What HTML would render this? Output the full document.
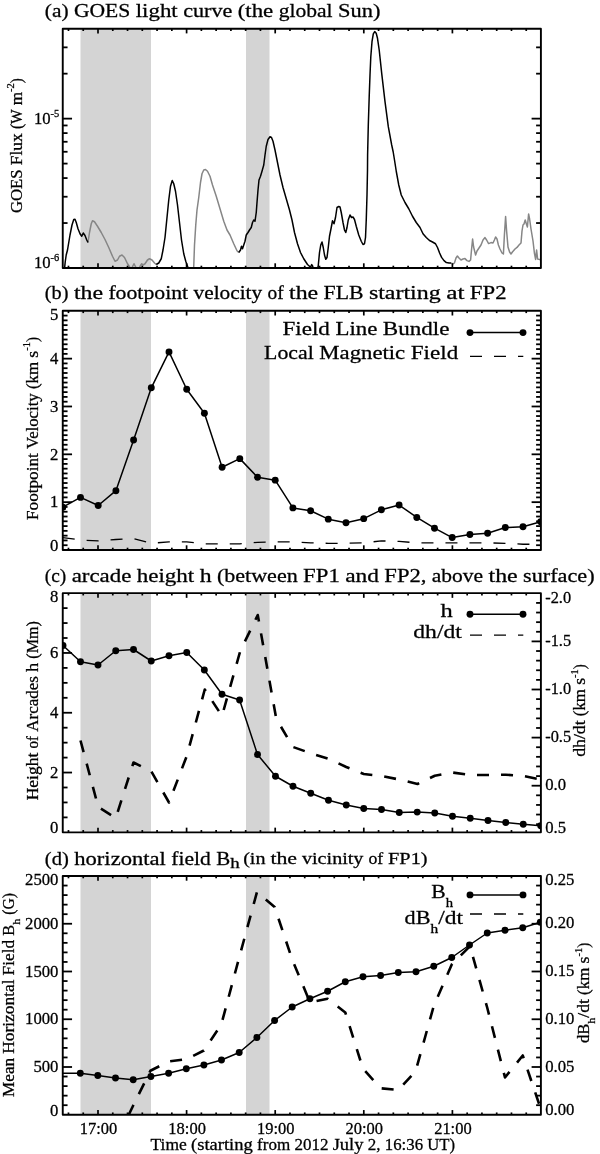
<!DOCTYPE html>
<html lang="en"><head><meta charset="utf-8"><title>Figure</title>
<style>html,body{margin:0;padding:0;background:#fff}svg{display:block}</style></head>
<body>
<svg width="600" height="1154" viewBox="0 0 600 1154" font-family='"Liberation Serif", serif' fill="#000">
<style>text{stroke:#000;stroke-width:0.27px}</style>
<rect width="600" height="1154" fill="#fff"/>
<rect x="80.5" y="28.7" width="70.5" height="239.3" fill="#d4d4d4"/>
<rect x="246" y="28.7" width="23.5" height="239.3" fill="#d4d4d4"/>
<text transform="translate(44.8,17)"><tspan x="0" y="0" font-size="19.2" textLength="23.71" lengthAdjust="spacingAndGlyphs">(a)</tspan> <tspan x="29.1" y="0" font-size="19.2" textLength="56.42" lengthAdjust="spacingAndGlyphs">GOES</tspan> <tspan x="90.91" y="0" font-size="19.2" textLength="42.04" lengthAdjust="spacingAndGlyphs">light</tspan> <tspan x="138.34" y="0" font-size="19.2" textLength="49.2" lengthAdjust="spacingAndGlyphs">curve</tspan> <tspan x="192.93" y="0" font-size="19.2" textLength="35.56" lengthAdjust="spacingAndGlyphs">(the</tspan> <tspan x="233.89" y="0" font-size="19.2" textLength="53.91" lengthAdjust="spacingAndGlyphs">global</tspan> <tspan x="293.19" y="0" font-size="19.2" textLength="42.39" lengthAdjust="spacingAndGlyphs">Sun)</tspan></text>
<clipPath id="ca"><rect x="62.75" y="28.7" width="478.15" height="239.3"/></clipPath>
<g clip-path="url(#ca)">
<path d="M88,242.5 L89.5,232.5 L91.25,223.75 L92.5,220.75 L94.5,221.75 L97.5,226.25 L101.25,232.5 L105,239.5 L108.75,247.5 L112.5,256.25 L115,261.25 L117.5,260 L119.5,256.25 L122,255 L124.5,257.5 L127.5,263.75 L129.25,266.25 L130.5,268.5 L131.8,268.5 L132.8,266 L134,263.75 L135.3,266.25 L136.5,268.5 L139,268.5 L140.2,266 L141.75,263.75 L143,265 L145,263.75 L147.5,260 L149.5,258.75 L152,260 L154.5,263 L156.25,264.5" fill="none" stroke="#868686" stroke-width="1.5" stroke-linejoin="round" />
<path d="M193.5,269 L193.75,266.25 L194.5,245 L195.75,225 L197,210 L198.75,197.5 L200.5,182.5 L202,173.75 L203.75,170 L205.5,169.5 L207.5,171.25 L210,176.25 L212.5,185 L216.25,196.25 L220,208.75 L223.75,221.25 L227,230 L230,235 L233.75,243.75 L237,250.75 L238.75,252.5" fill="none" stroke="#868686" stroke-width="1.5" stroke-linejoin="round" />
<path d="M451,263 L453,264 L454.4,263 L456,258 L457.4,256 L459,258 L461,260 L463,259 L465,258.6 L467,260.6 L469,261.4 L470.6,260 L471.6,249 L472.6,239 L473.6,247 L475.6,255 L477,251 L479,248 L481,245 L483,240 L485,237.6 L486.6,240 L488.6,243.6 L491,242.6 L493,243 L494.4,240 L495.6,237 L497,239 L498.4,245 L500,249 L502,253 L503.4,254 L504.4,235 L505.6,216.6 L506.6,231 L508,247 L509.6,252 L511,254 L512.4,252 L515,249 L517,247.4 L519,245 L521,243 L522,231 L523,225 L524,224 L525.2,220 L526.4,224 L527.4,227 L528.6,214 L529.6,219 L531,229 L533,241 L534.4,253 L535.6,259.4 L536.6,250 L537.6,259 L539,259.4 L540.7,259.4" fill="none" stroke="#868686" stroke-width="1.5" stroke-linejoin="round" />
<path d="M64.6,268 L65.2,262 L66.2,255 L67.5,250 L70,235 L72,225 L73.75,219.5 L75,219.25 L76.25,222.5 L78,228.75 L80,233.75 L81.75,236.25 L83.25,233 L85,235.5 L86.75,240 L88,242.5" fill="none" stroke="#000" stroke-width="1.5" stroke-linejoin="round" />
<path d="M156.25,264.5 L158.75,263 L161.25,258.75 L163,250 L165,237.5 L167,217.5 L168.75,200 L170.5,186.25 L172.25,180.5 L173.75,183.75 L175.5,191.25 L177.5,205 L179.5,222.5 L181.5,240 L183.75,253.75 L185.75,261.25 L187.5,266.25 L188.5,269" fill="none" stroke="#000" stroke-width="1.5" stroke-linejoin="round" />
<path d="M238.75,252.5 L240.5,250 L241.5,246.25 L242.5,248.75 L243.75,245 L245,241.25 L246.25,235 L248,232.5 L249.5,230 L251.25,227.5 L252.5,222.5 L253.75,220 L255,221.25 L256.25,212.5 L257,202.5 L258,190 L259,180 L260.5,176.25 L262,171.25 L263.75,165 L265,155 L266.25,146.25 L268,139.5 L270,136.75 L271.5,137.5 L273,141.25 L275,150 L277.5,162.5 L280,175 L283,187.5 L286.25,198.75 L289.5,210 L292,220 L294.5,232.5 L297.5,243.75 L300.5,252.5 L303.75,258.75 L307.5,264.5 L309.5,266.25 L310.3,268.5 L311,266 L311.7,264.6 L312.6,266 L313.2,268.5" fill="none" stroke="#000" stroke-width="1.5" stroke-linejoin="round" />
<path d="M317.8,268.5 L318.2,266.25 L319.5,252.5 L320.75,245 L322,242 L323.25,247.5 L324.5,255 L325.75,259.25 L327,257.5 L328.25,247.5 L329.5,236.25 L331,228.75 L332.5,220.75 L334,223.75 L335.5,217.5 L337,207.5 L338.75,206.5 L340,207 L341.25,212.5 L343,222.5 L344.5,230 L345.75,232.5 L347,227.5 L348.25,220 L350,215 L351.5,217.5 L353,217 L354.5,219.5 L356.25,226.25 L358.75,235 L361.25,241.25 L363,244.5 L364.5,243.75 L365.5,237.5 L366.25,220 L367,195 L367.5,170 L367.6,155 L368.3,125 L369.2,96.7 L370,75 L370.8,56.7 L372,41.7 L373.3,33.8 L374.7,31.6 L376.2,33.3 L377.5,38.3 L379.2,50 L381.7,73.3 L385,101.7 L388.3,126.7 L391.7,145 L393.2,152 L394.5,160 L396.25,171.25 L398.75,185 L401.25,195 L405,202.5 L408.75,208.75 L412.5,216.25 L416.25,222.5 L420,227.5 L423,233.75 L426.25,237.5 L429.5,240.5 L432.5,242 L435.5,243.75 L437.5,247.5 L439.6,253 L441.6,257.4 L444,260.6 L446.4,262.6 L449,263 L451,263" fill="none" stroke="#000" stroke-width="1.5" stroke-linejoin="round" />
</g>
<rect x="62.75" y="28.7" width="478.15" height="239.3" fill="none" stroke="#000" stroke-width="1.9" stroke-linejoin="round"/>
<line x1="68.47" y1="28.7" x2="68.47" y2="31" stroke="#000" stroke-width="1.7" />
<line x1="68.47" y1="268" x2="68.47" y2="265.7" stroke="#000" stroke-width="1.7" />
<line x1="83.23" y1="28.7" x2="83.23" y2="31" stroke="#000" stroke-width="1.7" />
<line x1="83.23" y1="268" x2="83.23" y2="265.7" stroke="#000" stroke-width="1.7" />
<line x1="98" y1="28.7" x2="98" y2="33.4" stroke="#000" stroke-width="1.7" />
<line x1="98" y1="268" x2="98" y2="263.3" stroke="#000" stroke-width="1.7" />
<line x1="112.77" y1="28.7" x2="112.77" y2="31" stroke="#000" stroke-width="1.7" />
<line x1="112.77" y1="268" x2="112.77" y2="265.7" stroke="#000" stroke-width="1.7" />
<line x1="127.53" y1="28.7" x2="127.53" y2="31" stroke="#000" stroke-width="1.7" />
<line x1="127.53" y1="268" x2="127.53" y2="265.7" stroke="#000" stroke-width="1.7" />
<line x1="142.3" y1="28.7" x2="142.3" y2="31" stroke="#000" stroke-width="1.7" />
<line x1="142.3" y1="268" x2="142.3" y2="265.7" stroke="#000" stroke-width="1.7" />
<line x1="157.07" y1="28.7" x2="157.07" y2="31" stroke="#000" stroke-width="1.7" />
<line x1="157.07" y1="268" x2="157.07" y2="265.7" stroke="#000" stroke-width="1.7" />
<line x1="171.83" y1="28.7" x2="171.83" y2="31" stroke="#000" stroke-width="1.7" />
<line x1="171.83" y1="268" x2="171.83" y2="265.7" stroke="#000" stroke-width="1.7" />
<line x1="186.6" y1="28.7" x2="186.6" y2="33.4" stroke="#000" stroke-width="1.7" />
<line x1="186.6" y1="268" x2="186.6" y2="263.3" stroke="#000" stroke-width="1.7" />
<line x1="201.37" y1="28.7" x2="201.37" y2="31" stroke="#000" stroke-width="1.7" />
<line x1="201.37" y1="268" x2="201.37" y2="265.7" stroke="#000" stroke-width="1.7" />
<line x1="216.13" y1="28.7" x2="216.13" y2="31" stroke="#000" stroke-width="1.7" />
<line x1="216.13" y1="268" x2="216.13" y2="265.7" stroke="#000" stroke-width="1.7" />
<line x1="230.9" y1="28.7" x2="230.9" y2="31" stroke="#000" stroke-width="1.7" />
<line x1="230.9" y1="268" x2="230.9" y2="265.7" stroke="#000" stroke-width="1.7" />
<line x1="245.67" y1="28.7" x2="245.67" y2="31" stroke="#000" stroke-width="1.7" />
<line x1="245.67" y1="268" x2="245.67" y2="265.7" stroke="#000" stroke-width="1.7" />
<line x1="260.43" y1="28.7" x2="260.43" y2="31" stroke="#000" stroke-width="1.7" />
<line x1="260.43" y1="268" x2="260.43" y2="265.7" stroke="#000" stroke-width="1.7" />
<line x1="275.2" y1="28.7" x2="275.2" y2="33.4" stroke="#000" stroke-width="1.7" />
<line x1="275.2" y1="268" x2="275.2" y2="263.3" stroke="#000" stroke-width="1.7" />
<line x1="289.97" y1="28.7" x2="289.97" y2="31" stroke="#000" stroke-width="1.7" />
<line x1="289.97" y1="268" x2="289.97" y2="265.7" stroke="#000" stroke-width="1.7" />
<line x1="304.73" y1="28.7" x2="304.73" y2="31" stroke="#000" stroke-width="1.7" />
<line x1="304.73" y1="268" x2="304.73" y2="265.7" stroke="#000" stroke-width="1.7" />
<line x1="319.5" y1="28.7" x2="319.5" y2="31" stroke="#000" stroke-width="1.7" />
<line x1="319.5" y1="268" x2="319.5" y2="265.7" stroke="#000" stroke-width="1.7" />
<line x1="334.27" y1="28.7" x2="334.27" y2="31" stroke="#000" stroke-width="1.7" />
<line x1="334.27" y1="268" x2="334.27" y2="265.7" stroke="#000" stroke-width="1.7" />
<line x1="349.03" y1="28.7" x2="349.03" y2="31" stroke="#000" stroke-width="1.7" />
<line x1="349.03" y1="268" x2="349.03" y2="265.7" stroke="#000" stroke-width="1.7" />
<line x1="363.8" y1="28.7" x2="363.8" y2="33.4" stroke="#000" stroke-width="1.7" />
<line x1="363.8" y1="268" x2="363.8" y2="263.3" stroke="#000" stroke-width="1.7" />
<line x1="378.57" y1="28.7" x2="378.57" y2="31" stroke="#000" stroke-width="1.7" />
<line x1="378.57" y1="268" x2="378.57" y2="265.7" stroke="#000" stroke-width="1.7" />
<line x1="393.33" y1="28.7" x2="393.33" y2="31" stroke="#000" stroke-width="1.7" />
<line x1="393.33" y1="268" x2="393.33" y2="265.7" stroke="#000" stroke-width="1.7" />
<line x1="408.1" y1="28.7" x2="408.1" y2="31" stroke="#000" stroke-width="1.7" />
<line x1="408.1" y1="268" x2="408.1" y2="265.7" stroke="#000" stroke-width="1.7" />
<line x1="422.87" y1="28.7" x2="422.87" y2="31" stroke="#000" stroke-width="1.7" />
<line x1="422.87" y1="268" x2="422.87" y2="265.7" stroke="#000" stroke-width="1.7" />
<line x1="437.63" y1="28.7" x2="437.63" y2="31" stroke="#000" stroke-width="1.7" />
<line x1="437.63" y1="268" x2="437.63" y2="265.7" stroke="#000" stroke-width="1.7" />
<line x1="452.4" y1="28.7" x2="452.4" y2="33.4" stroke="#000" stroke-width="1.7" />
<line x1="452.4" y1="268" x2="452.4" y2="263.3" stroke="#000" stroke-width="1.7" />
<line x1="467.17" y1="28.7" x2="467.17" y2="31" stroke="#000" stroke-width="1.7" />
<line x1="467.17" y1="268" x2="467.17" y2="265.7" stroke="#000" stroke-width="1.7" />
<line x1="481.93" y1="28.7" x2="481.93" y2="31" stroke="#000" stroke-width="1.7" />
<line x1="481.93" y1="268" x2="481.93" y2="265.7" stroke="#000" stroke-width="1.7" />
<line x1="496.7" y1="28.7" x2="496.7" y2="31" stroke="#000" stroke-width="1.7" />
<line x1="496.7" y1="268" x2="496.7" y2="265.7" stroke="#000" stroke-width="1.7" />
<line x1="511.47" y1="28.7" x2="511.47" y2="31" stroke="#000" stroke-width="1.7" />
<line x1="511.47" y1="268" x2="511.47" y2="265.7" stroke="#000" stroke-width="1.7" />
<line x1="526.23" y1="28.7" x2="526.23" y2="31" stroke="#000" stroke-width="1.7" />
<line x1="526.23" y1="268" x2="526.23" y2="265.7" stroke="#000" stroke-width="1.7" />
<line x1="62.75" y1="223.04" x2="67.55" y2="223.04" stroke="#000" stroke-width="1.8" />
<line x1="62.75" y1="196.73" x2="67.55" y2="196.73" stroke="#000" stroke-width="1.8" />
<line x1="62.75" y1="178.07" x2="67.55" y2="178.07" stroke="#000" stroke-width="1.8" />
<line x1="62.75" y1="163.59" x2="67.55" y2="163.59" stroke="#000" stroke-width="1.8" />
<line x1="62.75" y1="151.77" x2="67.55" y2="151.77" stroke="#000" stroke-width="1.8" />
<line x1="62.75" y1="141.77" x2="67.55" y2="141.77" stroke="#000" stroke-width="1.8" />
<line x1="62.75" y1="133.11" x2="67.55" y2="133.11" stroke="#000" stroke-width="1.8" />
<line x1="62.75" y1="125.46" x2="67.55" y2="125.46" stroke="#000" stroke-width="1.8" />
<line x1="62.75" y1="118.63" x2="72.05" y2="118.63" stroke="#000" stroke-width="1.8" />
<line x1="62.75" y1="73.66" x2="67.55" y2="73.66" stroke="#000" stroke-width="1.8" />
<line x1="62.75" y1="47.36" x2="67.55" y2="47.36" stroke="#000" stroke-width="1.8" />
<line x1="540.9" y1="223.04" x2="536.1" y2="223.04" stroke="#000" stroke-width="1.8" />
<line x1="540.9" y1="196.73" x2="536.1" y2="196.73" stroke="#000" stroke-width="1.8" />
<line x1="540.9" y1="178.07" x2="536.1" y2="178.07" stroke="#000" stroke-width="1.8" />
<line x1="540.9" y1="163.59" x2="536.1" y2="163.59" stroke="#000" stroke-width="1.8" />
<line x1="540.9" y1="151.77" x2="536.1" y2="151.77" stroke="#000" stroke-width="1.8" />
<line x1="540.9" y1="141.77" x2="536.1" y2="141.77" stroke="#000" stroke-width="1.8" />
<line x1="540.9" y1="133.11" x2="536.1" y2="133.11" stroke="#000" stroke-width="1.8" />
<line x1="540.9" y1="125.46" x2="536.1" y2="125.46" stroke="#000" stroke-width="1.8" />
<line x1="540.9" y1="118.63" x2="531.6" y2="118.63" stroke="#000" stroke-width="1.8" />
<line x1="540.9" y1="73.66" x2="536.1" y2="73.66" stroke="#000" stroke-width="1.8" />
<line x1="540.9" y1="47.36" x2="536.1" y2="47.36" stroke="#000" stroke-width="1.8" />
<text transform="translate(59.3,123.93)"><tspan x="-25.39" y="0" font-size="16.4" textLength="16.68" lengthAdjust="spacingAndGlyphs">10</tspan><tspan x="-8.71" y="-6.8" font-size="10.5" textLength="8.71" lengthAdjust="spacingAndGlyphs">-5</tspan></text>
<text transform="translate(59.3,267.6)"><tspan x="-25.39" y="0" font-size="16.4" textLength="16.68" lengthAdjust="spacingAndGlyphs">10</tspan><tspan x="-8.71" y="-6.8" font-size="10.5" textLength="8.71" lengthAdjust="spacingAndGlyphs">-6</tspan></text>
<text transform="translate(21.6,145.6) rotate(-90)"><tspan x="-67.42" y="0" font-size="15.8" textLength="43.62" lengthAdjust="spacingAndGlyphs">GOES</tspan> <tspan x="-19.63" y="0" font-size="15.8" textLength="31.95" lengthAdjust="spacingAndGlyphs">Flux</tspan> <tspan x="16.49" y="0" font-size="15.8" textLength="19.71" lengthAdjust="spacingAndGlyphs">(W</tspan> <tspan x="40.37" y="0" font-size="15.8" textLength="13.34" lengthAdjust="spacingAndGlyphs">m</tspan><tspan x="53.71" y="-7.5" font-size="10.5" textLength="8.71" lengthAdjust="spacingAndGlyphs">-2</tspan><tspan x="62.42" y="0" font-size="15.8" textLength="5" lengthAdjust="spacingAndGlyphs">)</tspan></text>
<rect x="80.5" y="310.8" width="70.5" height="239.2" fill="#d4d4d4"/>
<rect x="246" y="310.8" width="23.5" height="239.2" fill="#d4d4d4"/>
<text transform="translate(44.8,299.3)"><tspan x="0" y="0" font-size="19.2" textLength="23.71" lengthAdjust="spacingAndGlyphs">(b)</tspan> <tspan x="29.1" y="0" font-size="19.2" textLength="29.1" lengthAdjust="spacingAndGlyphs">the</tspan> <tspan x="63.59" y="0" font-size="19.2" textLength="79.75" lengthAdjust="spacingAndGlyphs">footpoint</tspan> <tspan x="148.74" y="0" font-size="19.2" textLength="68.62" lengthAdjust="spacingAndGlyphs">velocity</tspan> <tspan x="222.75" y="0" font-size="19.2" textLength="16.16" lengthAdjust="spacingAndGlyphs">of</tspan> <tspan x="244.3" y="0" font-size="19.2" textLength="29.1" lengthAdjust="spacingAndGlyphs">the</tspan> <tspan x="278.8" y="0" font-size="19.2" textLength="39.89" lengthAdjust="spacingAndGlyphs">FLB</tspan> <tspan x="324.08" y="0" font-size="19.2" textLength="71.86" lengthAdjust="spacingAndGlyphs">starting</tspan> <tspan x="401.33" y="0" font-size="19.2" textLength="18.33" lengthAdjust="spacingAndGlyphs">at</tspan> <tspan x="425.05" y="0" font-size="19.2" textLength="36.67" lengthAdjust="spacingAndGlyphs">FP2</tspan></text>
<clipPath id="cb"><rect x="62.75" y="310.8" width="478.15" height="239.2"/></clipPath>
<g clip-path="url(#cb)">
<path d="M62.8,537.56 L80.5,539.95 L98.2,540.91 L115.9,539.48 L133.6,538.52 L151.3,543.3 L169,541.87 L186.7,541.87 L204.4,543.78 L222.1,543.78 L239.8,543.78 L257.5,542.35 L275.2,541.87 L292.9,541.87 L310.6,542.82 L328.3,543.3 L346,543.3 L363.7,542.82 L381.4,540.91 L399.1,541.39 L416.8,542.82 L434.5,542.82 L452.2,542.82 L469.9,542.82 L487.6,542.82 L505.3,543.3 L523,544.26 L540.7,544.26" fill="none" stroke="#000" stroke-width="1.3" stroke-linejoin="round" stroke-dasharray="12 12" />
<path d="M62.8,507.18 L80.5,497.38 L98.2,505.51 L115.9,490.68 L133.6,439.97 L151.3,387.82 L169,351.94 L186.7,389.26 L204.4,413.18 L222.1,467.24 L239.8,458.63 L257.5,477.28 L275.2,480.15 L292.9,507.9 L310.6,510.77 L328.3,519.14 L346,522.73 L363.7,518.66 L381.4,509.81 L399.1,505.03 L416.8,517.47 L434.5,528.18 L452.2,537.56 L469.9,534.45 L487.6,533.26 L505.3,527.52 L523,526.8 L540.7,521.77" fill="none" stroke="#000" stroke-width="1.5" stroke-linejoin="round" />
<circle cx="62.8" cy="507.18" r="3.45"/>
<circle cx="80.5" cy="497.38" r="3.45"/>
<circle cx="98.2" cy="505.51" r="3.45"/>
<circle cx="115.9" cy="490.68" r="3.45"/>
<circle cx="133.6" cy="439.97" r="3.45"/>
<circle cx="151.3" cy="387.82" r="3.45"/>
<circle cx="169" cy="351.94" r="3.45"/>
<circle cx="186.7" cy="389.26" r="3.45"/>
<circle cx="204.4" cy="413.18" r="3.45"/>
<circle cx="222.1" cy="467.24" r="3.45"/>
<circle cx="239.8" cy="458.63" r="3.45"/>
<circle cx="257.5" cy="477.28" r="3.45"/>
<circle cx="275.2" cy="480.15" r="3.45"/>
<circle cx="292.9" cy="507.9" r="3.45"/>
<circle cx="310.6" cy="510.77" r="3.45"/>
<circle cx="328.3" cy="519.14" r="3.45"/>
<circle cx="346" cy="522.73" r="3.45"/>
<circle cx="363.7" cy="518.66" r="3.45"/>
<circle cx="381.4" cy="509.81" r="3.45"/>
<circle cx="399.1" cy="505.03" r="3.45"/>
<circle cx="416.8" cy="517.47" r="3.45"/>
<circle cx="434.5" cy="528.18" r="3.45"/>
<circle cx="452.2" cy="537.56" r="3.45"/>
<circle cx="469.9" cy="534.45" r="3.45"/>
<circle cx="487.6" cy="533.26" r="3.45"/>
<circle cx="505.3" cy="527.52" r="3.45"/>
<circle cx="523" cy="526.8" r="3.45"/>
<circle cx="540.7" cy="521.77" r="3.45"/>
</g>
<rect x="62.75" y="310.8" width="478.15" height="239.2" fill="none" stroke="#000" stroke-width="1.9" stroke-linejoin="round"/>
<line x1="68.47" y1="310.8" x2="68.47" y2="313.1" stroke="#000" stroke-width="1.7" />
<line x1="68.47" y1="550" x2="68.47" y2="547.7" stroke="#000" stroke-width="1.7" />
<line x1="83.23" y1="310.8" x2="83.23" y2="313.1" stroke="#000" stroke-width="1.7" />
<line x1="83.23" y1="550" x2="83.23" y2="547.7" stroke="#000" stroke-width="1.7" />
<line x1="98" y1="310.8" x2="98" y2="315.5" stroke="#000" stroke-width="1.7" />
<line x1="98" y1="550" x2="98" y2="545.3" stroke="#000" stroke-width="1.7" />
<line x1="112.77" y1="310.8" x2="112.77" y2="313.1" stroke="#000" stroke-width="1.7" />
<line x1="112.77" y1="550" x2="112.77" y2="547.7" stroke="#000" stroke-width="1.7" />
<line x1="127.53" y1="310.8" x2="127.53" y2="313.1" stroke="#000" stroke-width="1.7" />
<line x1="127.53" y1="550" x2="127.53" y2="547.7" stroke="#000" stroke-width="1.7" />
<line x1="142.3" y1="310.8" x2="142.3" y2="313.1" stroke="#000" stroke-width="1.7" />
<line x1="142.3" y1="550" x2="142.3" y2="547.7" stroke="#000" stroke-width="1.7" />
<line x1="157.07" y1="310.8" x2="157.07" y2="313.1" stroke="#000" stroke-width="1.7" />
<line x1="157.07" y1="550" x2="157.07" y2="547.7" stroke="#000" stroke-width="1.7" />
<line x1="171.83" y1="310.8" x2="171.83" y2="313.1" stroke="#000" stroke-width="1.7" />
<line x1="171.83" y1="550" x2="171.83" y2="547.7" stroke="#000" stroke-width="1.7" />
<line x1="186.6" y1="310.8" x2="186.6" y2="315.5" stroke="#000" stroke-width="1.7" />
<line x1="186.6" y1="550" x2="186.6" y2="545.3" stroke="#000" stroke-width="1.7" />
<line x1="201.37" y1="310.8" x2="201.37" y2="313.1" stroke="#000" stroke-width="1.7" />
<line x1="201.37" y1="550" x2="201.37" y2="547.7" stroke="#000" stroke-width="1.7" />
<line x1="216.13" y1="310.8" x2="216.13" y2="313.1" stroke="#000" stroke-width="1.7" />
<line x1="216.13" y1="550" x2="216.13" y2="547.7" stroke="#000" stroke-width="1.7" />
<line x1="230.9" y1="310.8" x2="230.9" y2="313.1" stroke="#000" stroke-width="1.7" />
<line x1="230.9" y1="550" x2="230.9" y2="547.7" stroke="#000" stroke-width="1.7" />
<line x1="245.67" y1="310.8" x2="245.67" y2="313.1" stroke="#000" stroke-width="1.7" />
<line x1="245.67" y1="550" x2="245.67" y2="547.7" stroke="#000" stroke-width="1.7" />
<line x1="260.43" y1="310.8" x2="260.43" y2="313.1" stroke="#000" stroke-width="1.7" />
<line x1="260.43" y1="550" x2="260.43" y2="547.7" stroke="#000" stroke-width="1.7" />
<line x1="275.2" y1="310.8" x2="275.2" y2="315.5" stroke="#000" stroke-width="1.7" />
<line x1="275.2" y1="550" x2="275.2" y2="545.3" stroke="#000" stroke-width="1.7" />
<line x1="289.97" y1="310.8" x2="289.97" y2="313.1" stroke="#000" stroke-width="1.7" />
<line x1="289.97" y1="550" x2="289.97" y2="547.7" stroke="#000" stroke-width="1.7" />
<line x1="304.73" y1="310.8" x2="304.73" y2="313.1" stroke="#000" stroke-width="1.7" />
<line x1="304.73" y1="550" x2="304.73" y2="547.7" stroke="#000" stroke-width="1.7" />
<line x1="319.5" y1="310.8" x2="319.5" y2="313.1" stroke="#000" stroke-width="1.7" />
<line x1="319.5" y1="550" x2="319.5" y2="547.7" stroke="#000" stroke-width="1.7" />
<line x1="334.27" y1="310.8" x2="334.27" y2="313.1" stroke="#000" stroke-width="1.7" />
<line x1="334.27" y1="550" x2="334.27" y2="547.7" stroke="#000" stroke-width="1.7" />
<line x1="349.03" y1="310.8" x2="349.03" y2="313.1" stroke="#000" stroke-width="1.7" />
<line x1="349.03" y1="550" x2="349.03" y2="547.7" stroke="#000" stroke-width="1.7" />
<line x1="363.8" y1="310.8" x2="363.8" y2="315.5" stroke="#000" stroke-width="1.7" />
<line x1="363.8" y1="550" x2="363.8" y2="545.3" stroke="#000" stroke-width="1.7" />
<line x1="378.57" y1="310.8" x2="378.57" y2="313.1" stroke="#000" stroke-width="1.7" />
<line x1="378.57" y1="550" x2="378.57" y2="547.7" stroke="#000" stroke-width="1.7" />
<line x1="393.33" y1="310.8" x2="393.33" y2="313.1" stroke="#000" stroke-width="1.7" />
<line x1="393.33" y1="550" x2="393.33" y2="547.7" stroke="#000" stroke-width="1.7" />
<line x1="408.1" y1="310.8" x2="408.1" y2="313.1" stroke="#000" stroke-width="1.7" />
<line x1="408.1" y1="550" x2="408.1" y2="547.7" stroke="#000" stroke-width="1.7" />
<line x1="422.87" y1="310.8" x2="422.87" y2="313.1" stroke="#000" stroke-width="1.7" />
<line x1="422.87" y1="550" x2="422.87" y2="547.7" stroke="#000" stroke-width="1.7" />
<line x1="437.63" y1="310.8" x2="437.63" y2="313.1" stroke="#000" stroke-width="1.7" />
<line x1="437.63" y1="550" x2="437.63" y2="547.7" stroke="#000" stroke-width="1.7" />
<line x1="452.4" y1="310.8" x2="452.4" y2="315.5" stroke="#000" stroke-width="1.7" />
<line x1="452.4" y1="550" x2="452.4" y2="545.3" stroke="#000" stroke-width="1.7" />
<line x1="467.17" y1="310.8" x2="467.17" y2="313.1" stroke="#000" stroke-width="1.7" />
<line x1="467.17" y1="550" x2="467.17" y2="547.7" stroke="#000" stroke-width="1.7" />
<line x1="481.93" y1="310.8" x2="481.93" y2="313.1" stroke="#000" stroke-width="1.7" />
<line x1="481.93" y1="550" x2="481.93" y2="547.7" stroke="#000" stroke-width="1.7" />
<line x1="496.7" y1="310.8" x2="496.7" y2="313.1" stroke="#000" stroke-width="1.7" />
<line x1="496.7" y1="550" x2="496.7" y2="547.7" stroke="#000" stroke-width="1.7" />
<line x1="511.47" y1="310.8" x2="511.47" y2="313.1" stroke="#000" stroke-width="1.7" />
<line x1="511.47" y1="550" x2="511.47" y2="547.7" stroke="#000" stroke-width="1.7" />
<line x1="526.23" y1="310.8" x2="526.23" y2="313.1" stroke="#000" stroke-width="1.7" />
<line x1="526.23" y1="550" x2="526.23" y2="547.7" stroke="#000" stroke-width="1.7" />
<line x1="62.75" y1="545.22" x2="67.55" y2="545.22" stroke="#000" stroke-width="1.8" />
<line x1="62.75" y1="540.43" x2="67.55" y2="540.43" stroke="#000" stroke-width="1.8" />
<line x1="62.75" y1="535.65" x2="67.55" y2="535.65" stroke="#000" stroke-width="1.8" />
<line x1="62.75" y1="530.86" x2="67.55" y2="530.86" stroke="#000" stroke-width="1.8" />
<line x1="62.75" y1="526.08" x2="67.55" y2="526.08" stroke="#000" stroke-width="1.8" />
<line x1="62.75" y1="521.3" x2="67.55" y2="521.3" stroke="#000" stroke-width="1.8" />
<line x1="62.75" y1="516.51" x2="67.55" y2="516.51" stroke="#000" stroke-width="1.8" />
<line x1="62.75" y1="511.73" x2="67.55" y2="511.73" stroke="#000" stroke-width="1.8" />
<line x1="62.75" y1="506.94" x2="67.55" y2="506.94" stroke="#000" stroke-width="1.8" />
<line x1="62.75" y1="502.16" x2="72.05" y2="502.16" stroke="#000" stroke-width="1.8" />
<line x1="62.75" y1="497.38" x2="67.55" y2="497.38" stroke="#000" stroke-width="1.8" />
<line x1="62.75" y1="492.59" x2="67.55" y2="492.59" stroke="#000" stroke-width="1.8" />
<line x1="62.75" y1="487.81" x2="67.55" y2="487.81" stroke="#000" stroke-width="1.8" />
<line x1="62.75" y1="483.02" x2="67.55" y2="483.02" stroke="#000" stroke-width="1.8" />
<line x1="62.75" y1="478.24" x2="67.55" y2="478.24" stroke="#000" stroke-width="1.8" />
<line x1="62.75" y1="473.46" x2="67.55" y2="473.46" stroke="#000" stroke-width="1.8" />
<line x1="62.75" y1="468.67" x2="67.55" y2="468.67" stroke="#000" stroke-width="1.8" />
<line x1="62.75" y1="463.89" x2="67.55" y2="463.89" stroke="#000" stroke-width="1.8" />
<line x1="62.75" y1="459.1" x2="67.55" y2="459.1" stroke="#000" stroke-width="1.8" />
<line x1="62.75" y1="454.32" x2="72.05" y2="454.32" stroke="#000" stroke-width="1.8" />
<line x1="62.75" y1="449.54" x2="67.55" y2="449.54" stroke="#000" stroke-width="1.8" />
<line x1="62.75" y1="444.75" x2="67.55" y2="444.75" stroke="#000" stroke-width="1.8" />
<line x1="62.75" y1="439.97" x2="67.55" y2="439.97" stroke="#000" stroke-width="1.8" />
<line x1="62.75" y1="435.18" x2="67.55" y2="435.18" stroke="#000" stroke-width="1.8" />
<line x1="62.75" y1="430.4" x2="67.55" y2="430.4" stroke="#000" stroke-width="1.8" />
<line x1="62.75" y1="425.62" x2="67.55" y2="425.62" stroke="#000" stroke-width="1.8" />
<line x1="62.75" y1="420.83" x2="67.55" y2="420.83" stroke="#000" stroke-width="1.8" />
<line x1="62.75" y1="416.05" x2="67.55" y2="416.05" stroke="#000" stroke-width="1.8" />
<line x1="62.75" y1="411.26" x2="67.55" y2="411.26" stroke="#000" stroke-width="1.8" />
<line x1="62.75" y1="406.48" x2="72.05" y2="406.48" stroke="#000" stroke-width="1.8" />
<line x1="62.75" y1="401.7" x2="67.55" y2="401.7" stroke="#000" stroke-width="1.8" />
<line x1="62.75" y1="396.91" x2="67.55" y2="396.91" stroke="#000" stroke-width="1.8" />
<line x1="62.75" y1="392.13" x2="67.55" y2="392.13" stroke="#000" stroke-width="1.8" />
<line x1="62.75" y1="387.34" x2="67.55" y2="387.34" stroke="#000" stroke-width="1.8" />
<line x1="62.75" y1="382.56" x2="67.55" y2="382.56" stroke="#000" stroke-width="1.8" />
<line x1="62.75" y1="377.78" x2="67.55" y2="377.78" stroke="#000" stroke-width="1.8" />
<line x1="62.75" y1="372.99" x2="67.55" y2="372.99" stroke="#000" stroke-width="1.8" />
<line x1="62.75" y1="368.21" x2="67.55" y2="368.21" stroke="#000" stroke-width="1.8" />
<line x1="62.75" y1="363.42" x2="67.55" y2="363.42" stroke="#000" stroke-width="1.8" />
<line x1="62.75" y1="358.64" x2="72.05" y2="358.64" stroke="#000" stroke-width="1.8" />
<line x1="62.75" y1="353.86" x2="67.55" y2="353.86" stroke="#000" stroke-width="1.8" />
<line x1="62.75" y1="349.07" x2="67.55" y2="349.07" stroke="#000" stroke-width="1.8" />
<line x1="62.75" y1="344.29" x2="67.55" y2="344.29" stroke="#000" stroke-width="1.8" />
<line x1="62.75" y1="339.5" x2="67.55" y2="339.5" stroke="#000" stroke-width="1.8" />
<line x1="62.75" y1="334.72" x2="67.55" y2="334.72" stroke="#000" stroke-width="1.8" />
<line x1="62.75" y1="329.94" x2="67.55" y2="329.94" stroke="#000" stroke-width="1.8" />
<line x1="62.75" y1="325.15" x2="67.55" y2="325.15" stroke="#000" stroke-width="1.8" />
<line x1="62.75" y1="320.37" x2="67.55" y2="320.37" stroke="#000" stroke-width="1.8" />
<line x1="62.75" y1="315.58" x2="67.55" y2="315.58" stroke="#000" stroke-width="1.8" />
<line x1="540.9" y1="545.22" x2="536.1" y2="545.22" stroke="#000" stroke-width="1.8" />
<line x1="540.9" y1="540.43" x2="536.1" y2="540.43" stroke="#000" stroke-width="1.8" />
<line x1="540.9" y1="535.65" x2="536.1" y2="535.65" stroke="#000" stroke-width="1.8" />
<line x1="540.9" y1="530.86" x2="536.1" y2="530.86" stroke="#000" stroke-width="1.8" />
<line x1="540.9" y1="526.08" x2="536.1" y2="526.08" stroke="#000" stroke-width="1.8" />
<line x1="540.9" y1="521.3" x2="536.1" y2="521.3" stroke="#000" stroke-width="1.8" />
<line x1="540.9" y1="516.51" x2="536.1" y2="516.51" stroke="#000" stroke-width="1.8" />
<line x1="540.9" y1="511.73" x2="536.1" y2="511.73" stroke="#000" stroke-width="1.8" />
<line x1="540.9" y1="506.94" x2="536.1" y2="506.94" stroke="#000" stroke-width="1.8" />
<line x1="540.9" y1="502.16" x2="531.6" y2="502.16" stroke="#000" stroke-width="1.8" />
<line x1="540.9" y1="497.38" x2="536.1" y2="497.38" stroke="#000" stroke-width="1.8" />
<line x1="540.9" y1="492.59" x2="536.1" y2="492.59" stroke="#000" stroke-width="1.8" />
<line x1="540.9" y1="487.81" x2="536.1" y2="487.81" stroke="#000" stroke-width="1.8" />
<line x1="540.9" y1="483.02" x2="536.1" y2="483.02" stroke="#000" stroke-width="1.8" />
<line x1="540.9" y1="478.24" x2="536.1" y2="478.24" stroke="#000" stroke-width="1.8" />
<line x1="540.9" y1="473.46" x2="536.1" y2="473.46" stroke="#000" stroke-width="1.8" />
<line x1="540.9" y1="468.67" x2="536.1" y2="468.67" stroke="#000" stroke-width="1.8" />
<line x1="540.9" y1="463.89" x2="536.1" y2="463.89" stroke="#000" stroke-width="1.8" />
<line x1="540.9" y1="459.1" x2="536.1" y2="459.1" stroke="#000" stroke-width="1.8" />
<line x1="540.9" y1="454.32" x2="531.6" y2="454.32" stroke="#000" stroke-width="1.8" />
<line x1="540.9" y1="449.54" x2="536.1" y2="449.54" stroke="#000" stroke-width="1.8" />
<line x1="540.9" y1="444.75" x2="536.1" y2="444.75" stroke="#000" stroke-width="1.8" />
<line x1="540.9" y1="439.97" x2="536.1" y2="439.97" stroke="#000" stroke-width="1.8" />
<line x1="540.9" y1="435.18" x2="536.1" y2="435.18" stroke="#000" stroke-width="1.8" />
<line x1="540.9" y1="430.4" x2="536.1" y2="430.4" stroke="#000" stroke-width="1.8" />
<line x1="540.9" y1="425.62" x2="536.1" y2="425.62" stroke="#000" stroke-width="1.8" />
<line x1="540.9" y1="420.83" x2="536.1" y2="420.83" stroke="#000" stroke-width="1.8" />
<line x1="540.9" y1="416.05" x2="536.1" y2="416.05" stroke="#000" stroke-width="1.8" />
<line x1="540.9" y1="411.26" x2="536.1" y2="411.26" stroke="#000" stroke-width="1.8" />
<line x1="540.9" y1="406.48" x2="531.6" y2="406.48" stroke="#000" stroke-width="1.8" />
<line x1="540.9" y1="401.7" x2="536.1" y2="401.7" stroke="#000" stroke-width="1.8" />
<line x1="540.9" y1="396.91" x2="536.1" y2="396.91" stroke="#000" stroke-width="1.8" />
<line x1="540.9" y1="392.13" x2="536.1" y2="392.13" stroke="#000" stroke-width="1.8" />
<line x1="540.9" y1="387.34" x2="536.1" y2="387.34" stroke="#000" stroke-width="1.8" />
<line x1="540.9" y1="382.56" x2="536.1" y2="382.56" stroke="#000" stroke-width="1.8" />
<line x1="540.9" y1="377.78" x2="536.1" y2="377.78" stroke="#000" stroke-width="1.8" />
<line x1="540.9" y1="372.99" x2="536.1" y2="372.99" stroke="#000" stroke-width="1.8" />
<line x1="540.9" y1="368.21" x2="536.1" y2="368.21" stroke="#000" stroke-width="1.8" />
<line x1="540.9" y1="363.42" x2="536.1" y2="363.42" stroke="#000" stroke-width="1.8" />
<line x1="540.9" y1="358.64" x2="531.6" y2="358.64" stroke="#000" stroke-width="1.8" />
<line x1="540.9" y1="353.86" x2="536.1" y2="353.86" stroke="#000" stroke-width="1.8" />
<line x1="540.9" y1="349.07" x2="536.1" y2="349.07" stroke="#000" stroke-width="1.8" />
<line x1="540.9" y1="344.29" x2="536.1" y2="344.29" stroke="#000" stroke-width="1.8" />
<line x1="540.9" y1="339.5" x2="536.1" y2="339.5" stroke="#000" stroke-width="1.8" />
<line x1="540.9" y1="334.72" x2="536.1" y2="334.72" stroke="#000" stroke-width="1.8" />
<line x1="540.9" y1="329.94" x2="536.1" y2="329.94" stroke="#000" stroke-width="1.8" />
<line x1="540.9" y1="325.15" x2="536.1" y2="325.15" stroke="#000" stroke-width="1.8" />
<line x1="540.9" y1="320.37" x2="536.1" y2="320.37" stroke="#000" stroke-width="1.8" />
<line x1="540.9" y1="315.58" x2="536.1" y2="315.58" stroke="#000" stroke-width="1.8" />
<text transform="translate(58.4,550.8)"><tspan x="-8.34" y="0" font-size="16.4" textLength="8.34" lengthAdjust="spacingAndGlyphs">0</tspan></text>
<text transform="translate(58.4,507.36)"><tspan x="-8.34" y="0" font-size="16.4" textLength="8.34" lengthAdjust="spacingAndGlyphs">1</tspan></text>
<text transform="translate(58.4,459.52)"><tspan x="-8.34" y="0" font-size="16.4" textLength="8.34" lengthAdjust="spacingAndGlyphs">2</tspan></text>
<text transform="translate(58.4,411.68)"><tspan x="-8.34" y="0" font-size="16.4" textLength="8.34" lengthAdjust="spacingAndGlyphs">3</tspan></text>
<text transform="translate(58.4,363.84)"><tspan x="-8.34" y="0" font-size="16.4" textLength="8.34" lengthAdjust="spacingAndGlyphs">4</tspan></text>
<text transform="translate(58.4,320.1)"><tspan x="-8.34" y="0" font-size="16.4" textLength="8.34" lengthAdjust="spacingAndGlyphs">5</tspan></text>
<text transform="translate(37.8,428.5) rotate(-90)"><tspan x="-91.45" y="0" font-size="15.8" textLength="66.68" lengthAdjust="spacingAndGlyphs">Footpoint</tspan> <tspan x="-20.6" y="0" font-size="15.8" textLength="55.83" lengthAdjust="spacingAndGlyphs">Velocity</tspan> <tspan x="39.4" y="0" font-size="15.8" textLength="27.22" lengthAdjust="spacingAndGlyphs">(km</tspan> <tspan x="70.79" y="0" font-size="15.8" textLength="6.95" lengthAdjust="spacingAndGlyphs">s</tspan><tspan x="77.74" y="-7.5" font-size="10.5" textLength="8.71" lengthAdjust="spacingAndGlyphs">-1</tspan><tspan x="86.45" y="0" font-size="15.8" textLength="5" lengthAdjust="spacingAndGlyphs">)</tspan></text>
<text transform="translate(449.5,334.7)"><tspan x="-167.06" y="0" font-size="19.7" textLength="47.42" lengthAdjust="spacingAndGlyphs">Field</tspan> <tspan x="-114.08" y="0" font-size="19.7" textLength="41.86" lengthAdjust="spacingAndGlyphs">Line</tspan> <tspan x="-66.66" y="0" font-size="19.7" textLength="66.66" lengthAdjust="spacingAndGlyphs">Bundle</tspan></text>
<text transform="translate(458.2,358.8)"><tspan x="-194.1" y="0" font-size="19.7" textLength="49.64" lengthAdjust="spacingAndGlyphs">Local</tspan> <tspan x="-138.9" y="0" font-size="19.7" textLength="85.92" lengthAdjust="spacingAndGlyphs">Magnetic</tspan> <tspan x="-47.42" y="0" font-size="19.7" textLength="47.42" lengthAdjust="spacingAndGlyphs">Field</tspan></text>
<path d="M470,332.6 L523,332.6" fill="none" stroke="#000" stroke-width="1.5" stroke-linejoin="round" />
<circle cx="470" cy="332.6" r="3.45"/>
<circle cx="523" cy="332.6" r="3.45"/>
<path d="M470,356.4 L523.3,356.4" fill="none" stroke="#000" stroke-width="1.3" stroke-linejoin="round" stroke-dasharray="12 12" />
<rect x="80.5" y="593.15" width="70.5" height="239.2" fill="#d4d4d4"/>
<rect x="246" y="593.15" width="23.5" height="239.2" fill="#d4d4d4"/>
<text transform="translate(44.8,582.3)"><tspan x="0" y="0" font-size="19.2" textLength="21.53" lengthAdjust="spacingAndGlyphs">(c)</tspan> <tspan x="26.93" y="0" font-size="19.2" textLength="59.64" lengthAdjust="spacingAndGlyphs">arcade</tspan> <tspan x="91.96" y="0" font-size="19.2" textLength="57.48" lengthAdjust="spacingAndGlyphs">height</tspan> <tspan x="154.83" y="0" font-size="19.2" textLength="11.85" lengthAdjust="spacingAndGlyphs">h</tspan> <tspan x="172.08" y="0" font-size="19.2" textLength="80.84" lengthAdjust="spacingAndGlyphs">(between</tspan> <tspan x="258.31" y="0" font-size="19.2" textLength="36.67" lengthAdjust="spacingAndGlyphs">FP1</tspan> <tspan x="300.37" y="0" font-size="19.2" textLength="33.78" lengthAdjust="spacingAndGlyphs">and</tspan> <tspan x="339.54" y="0" font-size="19.2" textLength="42.06" lengthAdjust="spacingAndGlyphs">FP2,</tspan> <tspan x="386.99" y="0" font-size="19.2" textLength="51.39" lengthAdjust="spacingAndGlyphs">above</tspan> <tspan x="443.77" y="0" font-size="19.2" textLength="29.1" lengthAdjust="spacingAndGlyphs">the</tspan> <tspan x="478.27" y="0" font-size="19.2" textLength="71.47" lengthAdjust="spacingAndGlyphs">surface)</tspan></text>
<clipPath id="cc"><rect x="62.75" y="593.15" width="478.15" height="239.2"/></clipPath>
<g clip-path="url(#cc)">
<path d="M80.5,740.5 L98.25,807 L115.75,818 L133.5,762.5 L151.25,771.25 L169,802.5 L186.75,756 L204.75,689.5 L222,716 L240.25,651 L257.75,615 L276.25,718.75 L293,747 L310.75,753.25 L328.5,758.75 L346.25,767 L363.75,774 L381.5,776 L399.25,779.5 L417.5,784 L434.75,775.75 L452.5,772.5 L470.25,775 L488,775 L505.75,774.75 L523.25,776 L540.75,779.5" fill="none" stroke="#000" stroke-width="2.6" stroke-linejoin="round" stroke-dasharray="12 12" />
<path d="M63,645.5 L80.5,661.75 L98,665 L115.75,650.75 L133.5,649.5 L151.25,661 L169,655.75 L186.75,652.5 L204.35,670 L222,694.25 L239.6,700 L257.5,754.5 L275.5,776.25 L293,786.25 L310.75,793.25 L328.5,800.25 L346.25,805 L363.75,808.5 L381.5,809.5 L399.25,812.5 L417.2,812.1 L434.75,813 L452.5,816.25 L470.25,818.25 L488,820.5 L505.75,822.5 L523.25,824.25 L540.75,825.75" fill="none" stroke="#000" stroke-width="1.5" stroke-linejoin="round" />
<circle cx="63" cy="645.5" r="3.45"/>
<circle cx="80.5" cy="661.75" r="3.45"/>
<circle cx="98" cy="665" r="3.45"/>
<circle cx="115.75" cy="650.75" r="3.45"/>
<circle cx="133.5" cy="649.5" r="3.45"/>
<circle cx="151.25" cy="661" r="3.45"/>
<circle cx="169" cy="655.75" r="3.45"/>
<circle cx="186.75" cy="652.5" r="3.45"/>
<circle cx="204.35" cy="670" r="3.45"/>
<circle cx="222" cy="694.25" r="3.45"/>
<circle cx="239.6" cy="700" r="3.45"/>
<circle cx="257.5" cy="754.5" r="3.45"/>
<circle cx="275.5" cy="776.25" r="3.45"/>
<circle cx="293" cy="786.25" r="3.45"/>
<circle cx="310.75" cy="793.25" r="3.45"/>
<circle cx="328.5" cy="800.25" r="3.45"/>
<circle cx="346.25" cy="805" r="3.45"/>
<circle cx="363.75" cy="808.5" r="3.45"/>
<circle cx="381.5" cy="809.5" r="3.45"/>
<circle cx="399.25" cy="812.5" r="3.45"/>
<circle cx="417.2" cy="812.1" r="3.45"/>
<circle cx="434.75" cy="813" r="3.45"/>
<circle cx="452.5" cy="816.25" r="3.45"/>
<circle cx="470.25" cy="818.25" r="3.45"/>
<circle cx="488" cy="820.5" r="3.45"/>
<circle cx="505.75" cy="822.5" r="3.45"/>
<circle cx="523.25" cy="824.25" r="3.45"/>
<circle cx="540.75" cy="825.75" r="3.45"/>
</g>
<rect x="62.75" y="593.15" width="478.15" height="239.2" fill="none" stroke="#000" stroke-width="1.9" stroke-linejoin="round"/>
<line x1="68.47" y1="593.15" x2="68.47" y2="595.45" stroke="#000" stroke-width="1.7" />
<line x1="68.47" y1="832.35" x2="68.47" y2="830.05" stroke="#000" stroke-width="1.7" />
<line x1="83.23" y1="593.15" x2="83.23" y2="595.45" stroke="#000" stroke-width="1.7" />
<line x1="83.23" y1="832.35" x2="83.23" y2="830.05" stroke="#000" stroke-width="1.7" />
<line x1="98" y1="593.15" x2="98" y2="597.85" stroke="#000" stroke-width="1.7" />
<line x1="98" y1="832.35" x2="98" y2="827.65" stroke="#000" stroke-width="1.7" />
<line x1="112.77" y1="593.15" x2="112.77" y2="595.45" stroke="#000" stroke-width="1.7" />
<line x1="112.77" y1="832.35" x2="112.77" y2="830.05" stroke="#000" stroke-width="1.7" />
<line x1="127.53" y1="593.15" x2="127.53" y2="595.45" stroke="#000" stroke-width="1.7" />
<line x1="127.53" y1="832.35" x2="127.53" y2="830.05" stroke="#000" stroke-width="1.7" />
<line x1="142.3" y1="593.15" x2="142.3" y2="595.45" stroke="#000" stroke-width="1.7" />
<line x1="142.3" y1="832.35" x2="142.3" y2="830.05" stroke="#000" stroke-width="1.7" />
<line x1="157.07" y1="593.15" x2="157.07" y2="595.45" stroke="#000" stroke-width="1.7" />
<line x1="157.07" y1="832.35" x2="157.07" y2="830.05" stroke="#000" stroke-width="1.7" />
<line x1="171.83" y1="593.15" x2="171.83" y2="595.45" stroke="#000" stroke-width="1.7" />
<line x1="171.83" y1="832.35" x2="171.83" y2="830.05" stroke="#000" stroke-width="1.7" />
<line x1="186.6" y1="593.15" x2="186.6" y2="597.85" stroke="#000" stroke-width="1.7" />
<line x1="186.6" y1="832.35" x2="186.6" y2="827.65" stroke="#000" stroke-width="1.7" />
<line x1="201.37" y1="593.15" x2="201.37" y2="595.45" stroke="#000" stroke-width="1.7" />
<line x1="201.37" y1="832.35" x2="201.37" y2="830.05" stroke="#000" stroke-width="1.7" />
<line x1="216.13" y1="593.15" x2="216.13" y2="595.45" stroke="#000" stroke-width="1.7" />
<line x1="216.13" y1="832.35" x2="216.13" y2="830.05" stroke="#000" stroke-width="1.7" />
<line x1="230.9" y1="593.15" x2="230.9" y2="595.45" stroke="#000" stroke-width="1.7" />
<line x1="230.9" y1="832.35" x2="230.9" y2="830.05" stroke="#000" stroke-width="1.7" />
<line x1="245.67" y1="593.15" x2="245.67" y2="595.45" stroke="#000" stroke-width="1.7" />
<line x1="245.67" y1="832.35" x2="245.67" y2="830.05" stroke="#000" stroke-width="1.7" />
<line x1="260.43" y1="593.15" x2="260.43" y2="595.45" stroke="#000" stroke-width="1.7" />
<line x1="260.43" y1="832.35" x2="260.43" y2="830.05" stroke="#000" stroke-width="1.7" />
<line x1="275.2" y1="593.15" x2="275.2" y2="597.85" stroke="#000" stroke-width="1.7" />
<line x1="275.2" y1="832.35" x2="275.2" y2="827.65" stroke="#000" stroke-width="1.7" />
<line x1="289.97" y1="593.15" x2="289.97" y2="595.45" stroke="#000" stroke-width="1.7" />
<line x1="289.97" y1="832.35" x2="289.97" y2="830.05" stroke="#000" stroke-width="1.7" />
<line x1="304.73" y1="593.15" x2="304.73" y2="595.45" stroke="#000" stroke-width="1.7" />
<line x1="304.73" y1="832.35" x2="304.73" y2="830.05" stroke="#000" stroke-width="1.7" />
<line x1="319.5" y1="593.15" x2="319.5" y2="595.45" stroke="#000" stroke-width="1.7" />
<line x1="319.5" y1="832.35" x2="319.5" y2="830.05" stroke="#000" stroke-width="1.7" />
<line x1="334.27" y1="593.15" x2="334.27" y2="595.45" stroke="#000" stroke-width="1.7" />
<line x1="334.27" y1="832.35" x2="334.27" y2="830.05" stroke="#000" stroke-width="1.7" />
<line x1="349.03" y1="593.15" x2="349.03" y2="595.45" stroke="#000" stroke-width="1.7" />
<line x1="349.03" y1="832.35" x2="349.03" y2="830.05" stroke="#000" stroke-width="1.7" />
<line x1="363.8" y1="593.15" x2="363.8" y2="597.85" stroke="#000" stroke-width="1.7" />
<line x1="363.8" y1="832.35" x2="363.8" y2="827.65" stroke="#000" stroke-width="1.7" />
<line x1="378.57" y1="593.15" x2="378.57" y2="595.45" stroke="#000" stroke-width="1.7" />
<line x1="378.57" y1="832.35" x2="378.57" y2="830.05" stroke="#000" stroke-width="1.7" />
<line x1="393.33" y1="593.15" x2="393.33" y2="595.45" stroke="#000" stroke-width="1.7" />
<line x1="393.33" y1="832.35" x2="393.33" y2="830.05" stroke="#000" stroke-width="1.7" />
<line x1="408.1" y1="593.15" x2="408.1" y2="595.45" stroke="#000" stroke-width="1.7" />
<line x1="408.1" y1="832.35" x2="408.1" y2="830.05" stroke="#000" stroke-width="1.7" />
<line x1="422.87" y1="593.15" x2="422.87" y2="595.45" stroke="#000" stroke-width="1.7" />
<line x1="422.87" y1="832.35" x2="422.87" y2="830.05" stroke="#000" stroke-width="1.7" />
<line x1="437.63" y1="593.15" x2="437.63" y2="595.45" stroke="#000" stroke-width="1.7" />
<line x1="437.63" y1="832.35" x2="437.63" y2="830.05" stroke="#000" stroke-width="1.7" />
<line x1="452.4" y1="593.15" x2="452.4" y2="597.85" stroke="#000" stroke-width="1.7" />
<line x1="452.4" y1="832.35" x2="452.4" y2="827.65" stroke="#000" stroke-width="1.7" />
<line x1="467.17" y1="593.15" x2="467.17" y2="595.45" stroke="#000" stroke-width="1.7" />
<line x1="467.17" y1="832.35" x2="467.17" y2="830.05" stroke="#000" stroke-width="1.7" />
<line x1="481.93" y1="593.15" x2="481.93" y2="595.45" stroke="#000" stroke-width="1.7" />
<line x1="481.93" y1="832.35" x2="481.93" y2="830.05" stroke="#000" stroke-width="1.7" />
<line x1="496.7" y1="593.15" x2="496.7" y2="595.45" stroke="#000" stroke-width="1.7" />
<line x1="496.7" y1="832.35" x2="496.7" y2="830.05" stroke="#000" stroke-width="1.7" />
<line x1="511.47" y1="593.15" x2="511.47" y2="595.45" stroke="#000" stroke-width="1.7" />
<line x1="511.47" y1="832.35" x2="511.47" y2="830.05" stroke="#000" stroke-width="1.7" />
<line x1="526.23" y1="593.15" x2="526.23" y2="595.45" stroke="#000" stroke-width="1.7" />
<line x1="526.23" y1="832.35" x2="526.23" y2="830.05" stroke="#000" stroke-width="1.7" />
<line x1="62.75" y1="817.4" x2="67.55" y2="817.4" stroke="#000" stroke-width="1.8" />
<line x1="62.75" y1="802.45" x2="67.55" y2="802.45" stroke="#000" stroke-width="1.8" />
<line x1="62.75" y1="787.5" x2="67.55" y2="787.5" stroke="#000" stroke-width="1.8" />
<line x1="62.75" y1="772.55" x2="72.05" y2="772.55" stroke="#000" stroke-width="1.8" />
<line x1="62.75" y1="757.6" x2="67.55" y2="757.6" stroke="#000" stroke-width="1.8" />
<line x1="62.75" y1="742.65" x2="67.55" y2="742.65" stroke="#000" stroke-width="1.8" />
<line x1="62.75" y1="727.7" x2="67.55" y2="727.7" stroke="#000" stroke-width="1.8" />
<line x1="62.75" y1="712.75" x2="72.05" y2="712.75" stroke="#000" stroke-width="1.8" />
<line x1="62.75" y1="697.8" x2="67.55" y2="697.8" stroke="#000" stroke-width="1.8" />
<line x1="62.75" y1="682.85" x2="67.55" y2="682.85" stroke="#000" stroke-width="1.8" />
<line x1="62.75" y1="667.9" x2="67.55" y2="667.9" stroke="#000" stroke-width="1.8" />
<line x1="62.75" y1="652.95" x2="72.05" y2="652.95" stroke="#000" stroke-width="1.8" />
<line x1="62.75" y1="638" x2="67.55" y2="638" stroke="#000" stroke-width="1.8" />
<line x1="62.75" y1="623.05" x2="67.55" y2="623.05" stroke="#000" stroke-width="1.8" />
<line x1="62.75" y1="608.1" x2="67.55" y2="608.1" stroke="#000" stroke-width="1.8" />
<line x1="540.9" y1="602.92" x2="536.1" y2="602.92" stroke="#000" stroke-width="1.8" />
<line x1="540.9" y1="612.54" x2="536.1" y2="612.54" stroke="#000" stroke-width="1.8" />
<line x1="540.9" y1="622.16" x2="536.1" y2="622.16" stroke="#000" stroke-width="1.8" />
<line x1="540.9" y1="631.78" x2="536.1" y2="631.78" stroke="#000" stroke-width="1.8" />
<line x1="540.9" y1="641.4" x2="531.6" y2="641.4" stroke="#000" stroke-width="1.8" />
<line x1="540.9" y1="651.02" x2="536.1" y2="651.02" stroke="#000" stroke-width="1.8" />
<line x1="540.9" y1="660.64" x2="536.1" y2="660.64" stroke="#000" stroke-width="1.8" />
<line x1="540.9" y1="670.26" x2="536.1" y2="670.26" stroke="#000" stroke-width="1.8" />
<line x1="540.9" y1="679.88" x2="536.1" y2="679.88" stroke="#000" stroke-width="1.8" />
<line x1="540.9" y1="689.5" x2="531.6" y2="689.5" stroke="#000" stroke-width="1.8" />
<line x1="540.9" y1="699.12" x2="536.1" y2="699.12" stroke="#000" stroke-width="1.8" />
<line x1="540.9" y1="708.74" x2="536.1" y2="708.74" stroke="#000" stroke-width="1.8" />
<line x1="540.9" y1="718.36" x2="536.1" y2="718.36" stroke="#000" stroke-width="1.8" />
<line x1="540.9" y1="727.98" x2="536.1" y2="727.98" stroke="#000" stroke-width="1.8" />
<line x1="540.9" y1="737.6" x2="531.6" y2="737.6" stroke="#000" stroke-width="1.8" />
<line x1="540.9" y1="747.22" x2="536.1" y2="747.22" stroke="#000" stroke-width="1.8" />
<line x1="540.9" y1="756.84" x2="536.1" y2="756.84" stroke="#000" stroke-width="1.8" />
<line x1="540.9" y1="766.46" x2="536.1" y2="766.46" stroke="#000" stroke-width="1.8" />
<line x1="540.9" y1="776.08" x2="536.1" y2="776.08" stroke="#000" stroke-width="1.8" />
<line x1="540.9" y1="785.7" x2="531.6" y2="785.7" stroke="#000" stroke-width="1.8" />
<line x1="540.9" y1="795.32" x2="536.1" y2="795.32" stroke="#000" stroke-width="1.8" />
<line x1="540.9" y1="804.94" x2="536.1" y2="804.94" stroke="#000" stroke-width="1.8" />
<line x1="540.9" y1="814.56" x2="536.1" y2="814.56" stroke="#000" stroke-width="1.8" />
<line x1="540.9" y1="824.18" x2="536.1" y2="824.18" stroke="#000" stroke-width="1.8" />
<text transform="translate(58.4,833.15)"><tspan x="-8.34" y="0" font-size="16.4" textLength="8.34" lengthAdjust="spacingAndGlyphs">0</tspan></text>
<text transform="translate(58.4,777.75)"><tspan x="-8.34" y="0" font-size="16.4" textLength="8.34" lengthAdjust="spacingAndGlyphs">2</tspan></text>
<text transform="translate(58.4,717.95)"><tspan x="-8.34" y="0" font-size="16.4" textLength="8.34" lengthAdjust="spacingAndGlyphs">4</tspan></text>
<text transform="translate(58.4,658.15)"><tspan x="-8.34" y="0" font-size="16.4" textLength="8.34" lengthAdjust="spacingAndGlyphs">6</tspan></text>
<text transform="translate(58.4,602.45)"><tspan x="-8.34" y="0" font-size="16.4" textLength="8.34" lengthAdjust="spacingAndGlyphs">8</tspan></text>
<text transform="translate(545.2,602.5)"><tspan x="0" y="0" font-size="16.4" textLength="25.85" lengthAdjust="spacingAndGlyphs">-2.0</tspan></text>
<text transform="translate(545.2,646.1)"><tspan x="0" y="0" font-size="16.4" textLength="25.85" lengthAdjust="spacingAndGlyphs">-1.5</tspan></text>
<text transform="translate(545.2,694.2)"><tspan x="0" y="0" font-size="16.4" textLength="25.85" lengthAdjust="spacingAndGlyphs">-1.0</tspan></text>
<text transform="translate(545.2,742.3)"><tspan x="0" y="0" font-size="16.4" textLength="25.85" lengthAdjust="spacingAndGlyphs">-0.5</tspan></text>
<text transform="translate(545.2,790.4)"><tspan x="0" y="0" font-size="16.4" textLength="20.85" lengthAdjust="spacingAndGlyphs">0.0</tspan></text>
<text transform="translate(545.2,832.65)"><tspan x="0" y="0" font-size="16.4" textLength="20.85" lengthAdjust="spacingAndGlyphs">0.5</tspan></text>
<text transform="translate(37.9,710.8) rotate(-90)"><tspan x="-89.57" y="0" font-size="15.8" textLength="47.77" lengthAdjust="spacingAndGlyphs">Height</tspan> <tspan x="-37.63" y="0" font-size="15.8" textLength="12.49" lengthAdjust="spacingAndGlyphs">of</tspan> <tspan x="-20.96" y="0" font-size="15.8" textLength="55.54" lengthAdjust="spacingAndGlyphs">Arcades</tspan> <tspan x="38.75" y="0" font-size="15.8" textLength="9.16" lengthAdjust="spacingAndGlyphs">h</tspan> <tspan x="52.09" y="0" font-size="15.8" textLength="37.48" lengthAdjust="spacingAndGlyphs">(Mm)</tspan></text>
<text transform="translate(585.2,710.5) rotate(-90)"><tspan x="-46.3" y="0" font-size="15.8" textLength="36.39" lengthAdjust="spacingAndGlyphs">dh/dt</tspan> <tspan x="-5.74" y="0" font-size="15.8" textLength="27.22" lengthAdjust="spacingAndGlyphs">(km</tspan> <tspan x="25.65" y="0" font-size="15.8" textLength="6.95" lengthAdjust="spacingAndGlyphs">s</tspan><tspan x="32.6" y="-7.2" font-size="10.5" textLength="8.71" lengthAdjust="spacingAndGlyphs">-1</tspan><tspan x="41.31" y="0" font-size="15.8" textLength="5" lengthAdjust="spacingAndGlyphs">)</tspan></text>
<text transform="translate(452.6,616.9)"><tspan x="-12.22" y="0" font-size="19.7" textLength="12.22" lengthAdjust="spacingAndGlyphs">h</tspan></text>
<text transform="translate(461.8,638.2)"><tspan x="-48.52" y="0" font-size="19.7" textLength="48.52" lengthAdjust="spacingAndGlyphs">dh/dt</tspan></text>
<path d="M470,614.2 L523,614.2" fill="none" stroke="#000" stroke-width="1.5" stroke-linejoin="round" />
<circle cx="470" cy="614.2" r="3.45"/>
<circle cx="523" cy="614.2" r="3.45"/>
<path d="M470,635.2 L523.3,635.2" fill="none" stroke="#000" stroke-width="1.3" stroke-linejoin="round" stroke-dasharray="12 12" />
<rect x="80.5" y="876" width="70.5" height="238.75" fill="#d4d4d4"/>
<rect x="246" y="876" width="23.5" height="238.75" fill="#d4d4d4"/>
<text transform="translate(44.8,865)"><tspan x="0" y="0" font-size="19.2" textLength="24.06" lengthAdjust="spacingAndGlyphs">(d)</tspan> <tspan x="29.45" y="0" font-size="19.2" textLength="91.61" lengthAdjust="spacingAndGlyphs">horizontal</tspan> <tspan x="126.45" y="0" font-size="19.2" textLength="39.52" lengthAdjust="spacingAndGlyphs">field</tspan> <tspan x="171.36" y="0" font-size="19.2" textLength="14.01" lengthAdjust="spacingAndGlyphs">B</tspan><tspan x="185.37" y="2.6" font-size="14.5" textLength="9.47" lengthAdjust="spacingAndGlyphs">h</tspan> <tspan x="198.34" y="-0.6" font-size="17.6" textLength="22.35" lengthAdjust="spacingAndGlyphs">(in</tspan> <tspan x="225.62" y="-0.6" font-size="17.6" textLength="26.62" lengthAdjust="spacingAndGlyphs">the</tspan> <tspan x="257.18" y="-0.6" font-size="17.6" textLength="61.47" lengthAdjust="spacingAndGlyphs">vicinity</tspan> <tspan x="323.58" y="-0.6" font-size="17.6" textLength="14.79" lengthAdjust="spacingAndGlyphs">of</tspan> <tspan x="343.3" y="-0.6" font-size="17.6" textLength="39.46" lengthAdjust="spacingAndGlyphs">FP1)</tspan></text>
<clipPath id="cd"><rect x="62.75" y="876" width="478.15" height="238.75"/></clipPath>
<g clip-path="url(#cd)">
<path d="M128.75,1114.75 L133.2,1105.5 L150.4,1070.75 L168.6,1061.5 L186.3,1059.25 L203.9,1050.5 L221.3,1024.5 L239.2,957.5 L257,892 L274.6,907 L292.2,959.5 L310,1002.3 L327.6,998.75 L345.3,1012.5 L363,1068.75 L380.6,1088.25 L398.3,1090 L415.6,1071.25 L433.75,1006 L451.75,964.5 L470,946.25 L487.25,1007.75 L505,1077.5 L522.75,1055.5 L540.3,1107.5" fill="none" stroke="#000" stroke-width="2.6" stroke-linejoin="round" stroke-dasharray="12 12" stroke-dashoffset="1"/>
<path d="M62.8,1073.25 L80.3,1073.25 L97.8,1075.5 L115.5,1078 L133.2,1079.75 L150.9,1076.5 L168.6,1073.25 L186.3,1068.75 L203.9,1065 L221.5,1060 L239.2,1052.5 L256.9,1037.5 L274.6,1020.5 L292.2,1007 L309.9,998.75 L327.6,991.25 L345.3,981.75 L363,976.75 L380.6,975.5 L398.3,972.5 L416,971.75 L433.75,966.25 L451.75,957.5 L469.5,945 L487.25,933 L505,930.25 L522.75,927.75 L540.3,922.25" fill="none" stroke="#000" stroke-width="1.5" stroke-linejoin="round" />
<circle cx="80.3" cy="1073.25" r="3.45"/>
<circle cx="97.8" cy="1075.5" r="3.45"/>
<circle cx="115.5" cy="1078" r="3.45"/>
<circle cx="133.2" cy="1079.75" r="3.45"/>
<circle cx="150.9" cy="1076.5" r="3.45"/>
<circle cx="168.6" cy="1073.25" r="3.45"/>
<circle cx="186.3" cy="1068.75" r="3.45"/>
<circle cx="203.9" cy="1065" r="3.45"/>
<circle cx="221.5" cy="1060" r="3.45"/>
<circle cx="239.2" cy="1052.5" r="3.45"/>
<circle cx="256.9" cy="1037.5" r="3.45"/>
<circle cx="274.6" cy="1020.5" r="3.45"/>
<circle cx="292.2" cy="1007" r="3.45"/>
<circle cx="309.9" cy="998.75" r="3.45"/>
<circle cx="327.6" cy="991.25" r="3.45"/>
<circle cx="345.3" cy="981.75" r="3.45"/>
<circle cx="363" cy="976.75" r="3.45"/>
<circle cx="380.6" cy="975.5" r="3.45"/>
<circle cx="398.3" cy="972.5" r="3.45"/>
<circle cx="416" cy="971.75" r="3.45"/>
<circle cx="433.75" cy="966.25" r="3.45"/>
<circle cx="451.75" cy="957.5" r="3.45"/>
<circle cx="469.5" cy="945" r="3.45"/>
<circle cx="487.25" cy="933" r="3.45"/>
<circle cx="505" cy="930.25" r="3.45"/>
<circle cx="522.75" cy="927.75" r="3.45"/>
<circle cx="540.3" cy="922.25" r="3.45"/>
</g>
<rect x="62.75" y="876" width="478.15" height="238.75" fill="none" stroke="#000" stroke-width="1.9" stroke-linejoin="round"/>
<line x1="68.47" y1="876" x2="68.47" y2="878.3" stroke="#000" stroke-width="1.7" />
<line x1="68.47" y1="1114.75" x2="68.47" y2="1112.45" stroke="#000" stroke-width="1.7" />
<line x1="83.23" y1="876" x2="83.23" y2="878.3" stroke="#000" stroke-width="1.7" />
<line x1="83.23" y1="1114.75" x2="83.23" y2="1112.45" stroke="#000" stroke-width="1.7" />
<line x1="98" y1="876" x2="98" y2="880.7" stroke="#000" stroke-width="1.7" />
<line x1="98" y1="1114.75" x2="98" y2="1110.05" stroke="#000" stroke-width="1.7" />
<line x1="112.77" y1="876" x2="112.77" y2="878.3" stroke="#000" stroke-width="1.7" />
<line x1="112.77" y1="1114.75" x2="112.77" y2="1112.45" stroke="#000" stroke-width="1.7" />
<line x1="127.53" y1="876" x2="127.53" y2="878.3" stroke="#000" stroke-width="1.7" />
<line x1="127.53" y1="1114.75" x2="127.53" y2="1112.45" stroke="#000" stroke-width="1.7" />
<line x1="142.3" y1="876" x2="142.3" y2="878.3" stroke="#000" stroke-width="1.7" />
<line x1="142.3" y1="1114.75" x2="142.3" y2="1112.45" stroke="#000" stroke-width="1.7" />
<line x1="157.07" y1="876" x2="157.07" y2="878.3" stroke="#000" stroke-width="1.7" />
<line x1="157.07" y1="1114.75" x2="157.07" y2="1112.45" stroke="#000" stroke-width="1.7" />
<line x1="171.83" y1="876" x2="171.83" y2="878.3" stroke="#000" stroke-width="1.7" />
<line x1="171.83" y1="1114.75" x2="171.83" y2="1112.45" stroke="#000" stroke-width="1.7" />
<line x1="186.6" y1="876" x2="186.6" y2="880.7" stroke="#000" stroke-width="1.7" />
<line x1="186.6" y1="1114.75" x2="186.6" y2="1110.05" stroke="#000" stroke-width="1.7" />
<line x1="201.37" y1="876" x2="201.37" y2="878.3" stroke="#000" stroke-width="1.7" />
<line x1="201.37" y1="1114.75" x2="201.37" y2="1112.45" stroke="#000" stroke-width="1.7" />
<line x1="216.13" y1="876" x2="216.13" y2="878.3" stroke="#000" stroke-width="1.7" />
<line x1="216.13" y1="1114.75" x2="216.13" y2="1112.45" stroke="#000" stroke-width="1.7" />
<line x1="230.9" y1="876" x2="230.9" y2="878.3" stroke="#000" stroke-width="1.7" />
<line x1="230.9" y1="1114.75" x2="230.9" y2="1112.45" stroke="#000" stroke-width="1.7" />
<line x1="245.67" y1="876" x2="245.67" y2="878.3" stroke="#000" stroke-width="1.7" />
<line x1="245.67" y1="1114.75" x2="245.67" y2="1112.45" stroke="#000" stroke-width="1.7" />
<line x1="260.43" y1="876" x2="260.43" y2="878.3" stroke="#000" stroke-width="1.7" />
<line x1="260.43" y1="1114.75" x2="260.43" y2="1112.45" stroke="#000" stroke-width="1.7" />
<line x1="275.2" y1="876" x2="275.2" y2="880.7" stroke="#000" stroke-width="1.7" />
<line x1="275.2" y1="1114.75" x2="275.2" y2="1110.05" stroke="#000" stroke-width="1.7" />
<line x1="289.97" y1="876" x2="289.97" y2="878.3" stroke="#000" stroke-width="1.7" />
<line x1="289.97" y1="1114.75" x2="289.97" y2="1112.45" stroke="#000" stroke-width="1.7" />
<line x1="304.73" y1="876" x2="304.73" y2="878.3" stroke="#000" stroke-width="1.7" />
<line x1="304.73" y1="1114.75" x2="304.73" y2="1112.45" stroke="#000" stroke-width="1.7" />
<line x1="319.5" y1="876" x2="319.5" y2="878.3" stroke="#000" stroke-width="1.7" />
<line x1="319.5" y1="1114.75" x2="319.5" y2="1112.45" stroke="#000" stroke-width="1.7" />
<line x1="334.27" y1="876" x2="334.27" y2="878.3" stroke="#000" stroke-width="1.7" />
<line x1="334.27" y1="1114.75" x2="334.27" y2="1112.45" stroke="#000" stroke-width="1.7" />
<line x1="349.03" y1="876" x2="349.03" y2="878.3" stroke="#000" stroke-width="1.7" />
<line x1="349.03" y1="1114.75" x2="349.03" y2="1112.45" stroke="#000" stroke-width="1.7" />
<line x1="363.8" y1="876" x2="363.8" y2="880.7" stroke="#000" stroke-width="1.7" />
<line x1="363.8" y1="1114.75" x2="363.8" y2="1110.05" stroke="#000" stroke-width="1.7" />
<line x1="378.57" y1="876" x2="378.57" y2="878.3" stroke="#000" stroke-width="1.7" />
<line x1="378.57" y1="1114.75" x2="378.57" y2="1112.45" stroke="#000" stroke-width="1.7" />
<line x1="393.33" y1="876" x2="393.33" y2="878.3" stroke="#000" stroke-width="1.7" />
<line x1="393.33" y1="1114.75" x2="393.33" y2="1112.45" stroke="#000" stroke-width="1.7" />
<line x1="408.1" y1="876" x2="408.1" y2="878.3" stroke="#000" stroke-width="1.7" />
<line x1="408.1" y1="1114.75" x2="408.1" y2="1112.45" stroke="#000" stroke-width="1.7" />
<line x1="422.87" y1="876" x2="422.87" y2="878.3" stroke="#000" stroke-width="1.7" />
<line x1="422.87" y1="1114.75" x2="422.87" y2="1112.45" stroke="#000" stroke-width="1.7" />
<line x1="437.63" y1="876" x2="437.63" y2="878.3" stroke="#000" stroke-width="1.7" />
<line x1="437.63" y1="1114.75" x2="437.63" y2="1112.45" stroke="#000" stroke-width="1.7" />
<line x1="452.4" y1="876" x2="452.4" y2="880.7" stroke="#000" stroke-width="1.7" />
<line x1="452.4" y1="1114.75" x2="452.4" y2="1110.05" stroke="#000" stroke-width="1.7" />
<line x1="467.17" y1="876" x2="467.17" y2="878.3" stroke="#000" stroke-width="1.7" />
<line x1="467.17" y1="1114.75" x2="467.17" y2="1112.45" stroke="#000" stroke-width="1.7" />
<line x1="481.93" y1="876" x2="481.93" y2="878.3" stroke="#000" stroke-width="1.7" />
<line x1="481.93" y1="1114.75" x2="481.93" y2="1112.45" stroke="#000" stroke-width="1.7" />
<line x1="496.7" y1="876" x2="496.7" y2="878.3" stroke="#000" stroke-width="1.7" />
<line x1="496.7" y1="1114.75" x2="496.7" y2="1112.45" stroke="#000" stroke-width="1.7" />
<line x1="511.47" y1="876" x2="511.47" y2="878.3" stroke="#000" stroke-width="1.7" />
<line x1="511.47" y1="1114.75" x2="511.47" y2="1112.45" stroke="#000" stroke-width="1.7" />
<line x1="526.23" y1="876" x2="526.23" y2="878.3" stroke="#000" stroke-width="1.7" />
<line x1="526.23" y1="1114.75" x2="526.23" y2="1112.45" stroke="#000" stroke-width="1.7" />
<line x1="62.75" y1="1105.2" x2="67.55" y2="1105.2" stroke="#000" stroke-width="1.8" />
<line x1="62.75" y1="1095.65" x2="67.55" y2="1095.65" stroke="#000" stroke-width="1.8" />
<line x1="62.75" y1="1086.1" x2="67.55" y2="1086.1" stroke="#000" stroke-width="1.8" />
<line x1="62.75" y1="1076.55" x2="67.55" y2="1076.55" stroke="#000" stroke-width="1.8" />
<line x1="62.75" y1="1067" x2="72.05" y2="1067" stroke="#000" stroke-width="1.8" />
<line x1="62.75" y1="1057.45" x2="67.55" y2="1057.45" stroke="#000" stroke-width="1.8" />
<line x1="62.75" y1="1047.9" x2="67.55" y2="1047.9" stroke="#000" stroke-width="1.8" />
<line x1="62.75" y1="1038.35" x2="67.55" y2="1038.35" stroke="#000" stroke-width="1.8" />
<line x1="62.75" y1="1028.8" x2="67.55" y2="1028.8" stroke="#000" stroke-width="1.8" />
<line x1="62.75" y1="1019.25" x2="72.05" y2="1019.25" stroke="#000" stroke-width="1.8" />
<line x1="62.75" y1="1009.7" x2="67.55" y2="1009.7" stroke="#000" stroke-width="1.8" />
<line x1="62.75" y1="1000.15" x2="67.55" y2="1000.15" stroke="#000" stroke-width="1.8" />
<line x1="62.75" y1="990.6" x2="67.55" y2="990.6" stroke="#000" stroke-width="1.8" />
<line x1="62.75" y1="981.05" x2="67.55" y2="981.05" stroke="#000" stroke-width="1.8" />
<line x1="62.75" y1="971.5" x2="72.05" y2="971.5" stroke="#000" stroke-width="1.8" />
<line x1="62.75" y1="961.95" x2="67.55" y2="961.95" stroke="#000" stroke-width="1.8" />
<line x1="62.75" y1="952.4" x2="67.55" y2="952.4" stroke="#000" stroke-width="1.8" />
<line x1="62.75" y1="942.85" x2="67.55" y2="942.85" stroke="#000" stroke-width="1.8" />
<line x1="62.75" y1="933.3" x2="67.55" y2="933.3" stroke="#000" stroke-width="1.8" />
<line x1="62.75" y1="923.75" x2="72.05" y2="923.75" stroke="#000" stroke-width="1.8" />
<line x1="62.75" y1="914.2" x2="67.55" y2="914.2" stroke="#000" stroke-width="1.8" />
<line x1="62.75" y1="904.65" x2="67.55" y2="904.65" stroke="#000" stroke-width="1.8" />
<line x1="62.75" y1="895.1" x2="67.55" y2="895.1" stroke="#000" stroke-width="1.8" />
<line x1="62.75" y1="885.55" x2="67.55" y2="885.55" stroke="#000" stroke-width="1.8" />
<line x1="540.9" y1="1105.2" x2="536.1" y2="1105.2" stroke="#000" stroke-width="1.8" />
<line x1="540.9" y1="1095.65" x2="536.1" y2="1095.65" stroke="#000" stroke-width="1.8" />
<line x1="540.9" y1="1086.1" x2="536.1" y2="1086.1" stroke="#000" stroke-width="1.8" />
<line x1="540.9" y1="1076.55" x2="536.1" y2="1076.55" stroke="#000" stroke-width="1.8" />
<line x1="540.9" y1="1067" x2="531.6" y2="1067" stroke="#000" stroke-width="1.8" />
<line x1="540.9" y1="1057.45" x2="536.1" y2="1057.45" stroke="#000" stroke-width="1.8" />
<line x1="540.9" y1="1047.9" x2="536.1" y2="1047.9" stroke="#000" stroke-width="1.8" />
<line x1="540.9" y1="1038.35" x2="536.1" y2="1038.35" stroke="#000" stroke-width="1.8" />
<line x1="540.9" y1="1028.8" x2="536.1" y2="1028.8" stroke="#000" stroke-width="1.8" />
<line x1="540.9" y1="1019.25" x2="531.6" y2="1019.25" stroke="#000" stroke-width="1.8" />
<line x1="540.9" y1="1009.7" x2="536.1" y2="1009.7" stroke="#000" stroke-width="1.8" />
<line x1="540.9" y1="1000.15" x2="536.1" y2="1000.15" stroke="#000" stroke-width="1.8" />
<line x1="540.9" y1="990.6" x2="536.1" y2="990.6" stroke="#000" stroke-width="1.8" />
<line x1="540.9" y1="981.05" x2="536.1" y2="981.05" stroke="#000" stroke-width="1.8" />
<line x1="540.9" y1="971.5" x2="531.6" y2="971.5" stroke="#000" stroke-width="1.8" />
<line x1="540.9" y1="961.95" x2="536.1" y2="961.95" stroke="#000" stroke-width="1.8" />
<line x1="540.9" y1="952.4" x2="536.1" y2="952.4" stroke="#000" stroke-width="1.8" />
<line x1="540.9" y1="942.85" x2="536.1" y2="942.85" stroke="#000" stroke-width="1.8" />
<line x1="540.9" y1="933.3" x2="536.1" y2="933.3" stroke="#000" stroke-width="1.8" />
<line x1="540.9" y1="923.75" x2="531.6" y2="923.75" stroke="#000" stroke-width="1.8" />
<line x1="540.9" y1="914.2" x2="536.1" y2="914.2" stroke="#000" stroke-width="1.8" />
<line x1="540.9" y1="904.65" x2="536.1" y2="904.65" stroke="#000" stroke-width="1.8" />
<line x1="540.9" y1="895.1" x2="536.1" y2="895.1" stroke="#000" stroke-width="1.8" />
<line x1="540.9" y1="885.55" x2="536.1" y2="885.55" stroke="#000" stroke-width="1.8" />
<text transform="translate(58.4,1115.55)"><tspan x="-8.34" y="0" font-size="16.4" textLength="8.34" lengthAdjust="spacingAndGlyphs">0</tspan></text>
<text transform="translate(58.4,1072.2)"><tspan x="-25.02" y="0" font-size="16.4" textLength="25.02" lengthAdjust="spacingAndGlyphs">500</tspan></text>
<text transform="translate(58.4,1024.45)"><tspan x="-33.36" y="0" font-size="16.4" textLength="33.36" lengthAdjust="spacingAndGlyphs">1000</tspan></text>
<text transform="translate(58.4,976.7)"><tspan x="-33.36" y="0" font-size="16.4" textLength="33.36" lengthAdjust="spacingAndGlyphs">1500</tspan></text>
<text transform="translate(58.4,928.95)"><tspan x="-33.36" y="0" font-size="16.4" textLength="33.36" lengthAdjust="spacingAndGlyphs">2000</tspan></text>
<text transform="translate(58.4,885)"><tspan x="-33.36" y="0" font-size="16.4" textLength="33.36" lengthAdjust="spacingAndGlyphs">2500</tspan></text>
<text transform="translate(545.2,1115.25)"><tspan x="0" y="0" font-size="16.4" textLength="29.19" lengthAdjust="spacingAndGlyphs">0.00</tspan></text>
<text transform="translate(545.2,1071.6)"><tspan x="0" y="0" font-size="16.4" textLength="29.19" lengthAdjust="spacingAndGlyphs">0.05</tspan></text>
<text transform="translate(545.2,1023.85)"><tspan x="0" y="0" font-size="16.4" textLength="29.19" lengthAdjust="spacingAndGlyphs">0.10</tspan></text>
<text transform="translate(545.2,976.1)"><tspan x="0" y="0" font-size="16.4" textLength="29.19" lengthAdjust="spacingAndGlyphs">0.15</tspan></text>
<text transform="translate(545.2,928.35)"><tspan x="0" y="0" font-size="16.4" textLength="29.19" lengthAdjust="spacingAndGlyphs">0.20</tspan></text>
<text transform="translate(545.2,885.3)"><tspan x="0" y="0" font-size="16.4" textLength="29.19" lengthAdjust="spacingAndGlyphs">0.25</tspan></text>
<text transform="translate(14,995) rotate(-90)"><tspan x="-102.02" y="0" font-size="15.8" textLength="39.17" lengthAdjust="spacingAndGlyphs">Mean</tspan> <tspan x="-58.69" y="0" font-size="15.8" textLength="74.16" lengthAdjust="spacingAndGlyphs">Horizontal</tspan> <tspan x="19.64" y="0" font-size="15.8" textLength="35.56" lengthAdjust="spacingAndGlyphs">Field</tspan> <tspan x="59.38" y="0" font-size="15.8" textLength="10.83" lengthAdjust="spacingAndGlyphs">B</tspan><tspan x="70.21" y="5.5" font-size="9.5" textLength="5.99" lengthAdjust="spacingAndGlyphs">h</tspan> <tspan x="80.36" y="0" font-size="15.8" textLength="21.66" lengthAdjust="spacingAndGlyphs">(G)</tspan></text>
<text transform="translate(589.1,993) rotate(-90)"><tspan x="-50.13" y="0" font-size="15.8" textLength="19.44" lengthAdjust="spacingAndGlyphs">dB</tspan><tspan x="-30.69" y="6" font-size="9.5" textLength="5.99" lengthAdjust="spacingAndGlyphs">h</tspan><tspan x="-24.7" y="0" font-size="15.8" textLength="18.62" lengthAdjust="spacingAndGlyphs">/dt</tspan> <tspan x="-1.92" y="0" font-size="15.8" textLength="27.22" lengthAdjust="spacingAndGlyphs">(km</tspan> <tspan x="29.48" y="0" font-size="15.8" textLength="6.95" lengthAdjust="spacingAndGlyphs">s</tspan><tspan x="36.42" y="-7.2" font-size="10.5" textLength="8.71" lengthAdjust="spacingAndGlyphs">-1</tspan><tspan x="45.13" y="0" font-size="15.8" textLength="5" lengthAdjust="spacingAndGlyphs">)</tspan></text>
<text transform="translate(431.3,897.8)"><tspan x="0" y="0" font-size="19.7" textLength="14.44" lengthAdjust="spacingAndGlyphs">B</tspan><tspan x="14.44" y="9" font-size="11.5" textLength="7.33" lengthAdjust="spacingAndGlyphs">h</tspan></text>
<text transform="translate(404.6,923.6)"><tspan x="0" y="0" font-size="19.7" textLength="25.92" lengthAdjust="spacingAndGlyphs">dB</tspan><tspan x="25.92" y="9.3" font-size="11.5" textLength="7.7" lengthAdjust="spacingAndGlyphs">h</tspan><tspan x="33.62" y="0" font-size="19.7" textLength="24.82" lengthAdjust="spacingAndGlyphs">/dt</tspan></text>
<path d="M470,894.9 L523,894.9" fill="none" stroke="#000" stroke-width="1.5" stroke-linejoin="round" />
<circle cx="470" cy="894.9" r="3.45"/>
<circle cx="523" cy="894.9" r="3.45"/>
<path d="M470,914 L523.3,914" fill="none" stroke="#000" stroke-width="1.3" stroke-linejoin="round" stroke-dasharray="12 12" />
<text transform="translate(98.5,1134)"><tspan x="-18.76" y="0" font-size="16.4" textLength="37.53" lengthAdjust="spacingAndGlyphs">17:00</tspan></text>
<text transform="translate(187.1,1134)"><tspan x="-18.76" y="0" font-size="16.4" textLength="37.53" lengthAdjust="spacingAndGlyphs">18:00</tspan></text>
<text transform="translate(275.7,1134)"><tspan x="-18.76" y="0" font-size="16.4" textLength="37.53" lengthAdjust="spacingAndGlyphs">19:00</tspan></text>
<text transform="translate(364.3,1134)"><tspan x="-18.76" y="0" font-size="16.4" textLength="37.53" lengthAdjust="spacingAndGlyphs">20:00</tspan></text>
<text transform="translate(452.9,1134)"><tspan x="-18.76" y="0" font-size="16.4" textLength="37.53" lengthAdjust="spacingAndGlyphs">21:00</tspan></text>
<text transform="translate(302.8,1149.8)"><tspan x="-152.3" y="0" font-size="15.8" textLength="36.27" lengthAdjust="spacingAndGlyphs">Time</tspan> <tspan x="-111.78" y="0" font-size="15.8" textLength="61.75" lengthAdjust="spacingAndGlyphs">(starting</tspan> <tspan x="-45.78" y="0" font-size="15.8" textLength="33.13" lengthAdjust="spacingAndGlyphs">from</tspan> <tspan x="-8.4" y="0" font-size="15.8" textLength="34.02" lengthAdjust="spacingAndGlyphs">2012</tspan> <tspan x="29.87" y="0" font-size="15.8" textLength="30.88" lengthAdjust="spacingAndGlyphs">July</tspan> <tspan x="65.01" y="0" font-size="15.8" textLength="12.76" lengthAdjust="spacingAndGlyphs">2,</tspan> <tspan x="82.02" y="0" font-size="15.8" textLength="38.27" lengthAdjust="spacingAndGlyphs">16:36</tspan> <tspan x="124.54" y="0" font-size="15.8" textLength="27.76" lengthAdjust="spacingAndGlyphs">UT)</tspan></text>
</svg>
</body></html>
